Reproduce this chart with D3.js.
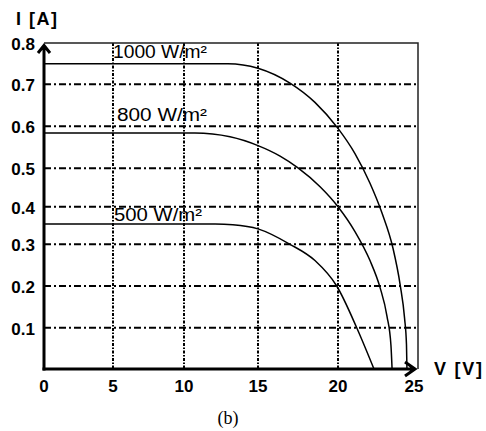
<!DOCTYPE html>
<html>
<head>
<meta charset="utf-8">
<script src="https://cdn.jsdelivr.net/npm/d3@7"></script>
<style>
  body { margin: 0; background: #fff; }
  svg { display: block; }
</style>
</head>
<body>
<div id="chart"></div>
<script>
const width = 486;
const height = 431;

// tick values
const vTicks = [0, 5, 10, 15, 20, 25];
const iTicks = [0, 0.1, 0.2, 0.3, 0.4, 0.5, 0.6, 0.7, 0.8];

// I-V curves
const volts1000 = [0, 12.97, 15, 17, 18.56, 20, 21.06, 22, 22.75, 23.44, 23.88, 24.16, 24.28, 24.31];
const amps1000  = [0.75, 0.75, 0.739, 0.703, 0.657, 0.595, 0.535, 0.461, 0.383, 0.29, 0.204, 0.123, 0.059, 0];

const volts800 = [0, 10.74, 13.11, 15, 16.38, 17.5, 18.88, 20, 21.06, 22, 22.63, 23.06, 23.31, 23.38];
const amps800  = [0.584, 0.584, 0.575, 0.554, 0.529, 0.501, 0.452, 0.40, 0.334, 0.261, 0.196, 0.128, 0.057, 0];

const volts500 = [0, 12.1, 13.3, 15, 17, 18.56, 19.92, 21.17, 22.25];
const amps500  = [0.354, 0.354, 0.352, 0.341, 0.30, 0.261, 0.20, 0.10, 0];

const curveNames = ["1000 W/m\u00b2", "800 W/m\u00b2", "500 W/m\u00b2"];
const curves = [
  d3.zip(volts1000, amps1000),
  d3.zip(volts800, amps800),
  d3.zip(volts500, amps500)
];

// the scanned grid is not evenly spaced, so both scales are piecewise
let x = d3.scaleLinear()
  .domain(vTicks)
  .range([44, 113, 184, 258, 338, 418]);

let y = d3.scaleLinear()
  .domain(iTicks)
  .range([369, 327.7, 286, 244.3, 206.7, 168.3, 126.3, 84.3, 43]);

let svg = d3.select("#chart")
  .append("svg")
  .attr("width", width)
  .attr("height", height);

// grid
svg.selectAll(".hgrid")
  .data(iTicks.slice(1, -1))
  .join("line")
  .attr("class", "hgrid")
  .attr("x1", x(0)).attr("x2", x(25))
  .attr("y1", d => y(d)).attr("y2", d => y(d))
  .attr("stroke", "#000")
  .attr("stroke-width", 2)
  .attr("stroke-dasharray", "7,3,2,3");

svg.selectAll(".vgrid")
  .data(vTicks.slice(1, -1))
  .join("line")
  .attr("class", "vgrid")
  .attr("x1", d => x(d)).attr("x2", d => x(d))
  .attr("y1", y(0.8)).attr("y2", y(0))
  .attr("stroke", "#000")
  .attr("stroke-width", 2)
  .attr("stroke-dasharray", "3,1.5,1.5,1.5");

// frame, top and right
svg.append("path")
  .attr("d", `M${x(0)},${y(0.8)}H${x(25)}V${y(0)}`)
  .attr("fill", "none")
  .attr("stroke", "#222")
  .attr("stroke-width", 1.5);

// curves
let line = d3.line()
  .x(d => x(d[0]))
  .y(d => y(d[1]))
  .curve(d3.curveMonotoneX);

svg.selectAll(".iv")
  .data(curves)
  .join("path")
  .attr("class", "iv")
  .attr("fill", "none")
  .attr("stroke", "#000")
  .attr("stroke-width", 1.5)
  .attr("d", line);

// thick axes with arrows
svg.append("path")
  .attr("d", `M${x(0)},${y(0) + 1.5}V46 M38,53L${x(0)},45.5L50,53`)
  .attr("fill", "none")
  .attr("stroke", "#000")
  .attr("stroke-width", 3);

svg.append("path")
  .attr("d", `M${x(0) - 1.5},${y(0)}H414 M405,362L415,${y(0)}L405,376`)
  .attr("fill", "none")
  .attr("stroke", "#000")
  .attr("stroke-width", 3);

// tick labels
const labelFont = "'Liberation Sans', Arial, sans-serif";

svg.selectAll(".ytick")
  .data(iTicks.slice(1))
  .join("text")
  .attr("class", "ytick")
  .attr("x", 35)
  .attr("y", d => y(d) + 7)
  .attr("text-anchor", "end")
  .style("font-family", labelFont)
  .style("font-weight", "bold")
  .style("font-size", "17px")
  .text(d => d3.format(".1f")(d));

svg.selectAll(".xtick")
  .data(vTicks)
  .join("text")
  .attr("class", "xtick")
  .attr("x", (d, i) => x(d) - (i === vTicks.length - 1 ? 4 : 0))
  .attr("y", 392)
  .attr("text-anchor", "middle")
  .style("font-family", labelFont)
  .style("font-weight", "bold")
  .style("font-size", "17px")
  .text(d => d);

// axis titles
svg.append("text")
  .attr("x", 16).attr("y", 25)
  .attr("textLength", 41)
  .style("font-family", labelFont)
  .style("font-weight", "bold")
  .style("font-size", "18px")
  .text("I [A]");

svg.append("text")
  .attr("x", 434).attr("y", 375)
  .attr("textLength", 48)
  .style("font-family", labelFont)
  .style("font-weight", "bold")
  .style("font-size", "18px")
  .text("V [V]");

// curve labels
const labelPos = [[113, 58, 94], [117, 121, 90], [114, 221, 88]];
svg.selectAll(".clabel")
  .data(curveNames)
  .join("text")
  .attr("class", "clabel")
  .attr("x", (d, i) => labelPos[i][0])
  .attr("y", (d, i) => labelPos[i][1])
  .attr("textLength", (d, i) => labelPos[i][2])
  .attr("lengthAdjust", "spacingAndGlyphs")
  .style("font-family", labelFont)
  .style("font-size", "18px")
  .text(d => d);

// caption
svg.append("text")
  .attr("x", 228).attr("y", 424)
  .attr("text-anchor", "middle")
  .style("font-family", "'Liberation Serif', 'Times New Roman', serif")
  .style("font-size", "18px")
  .text("(b)");
</script>
</body>
</html>
